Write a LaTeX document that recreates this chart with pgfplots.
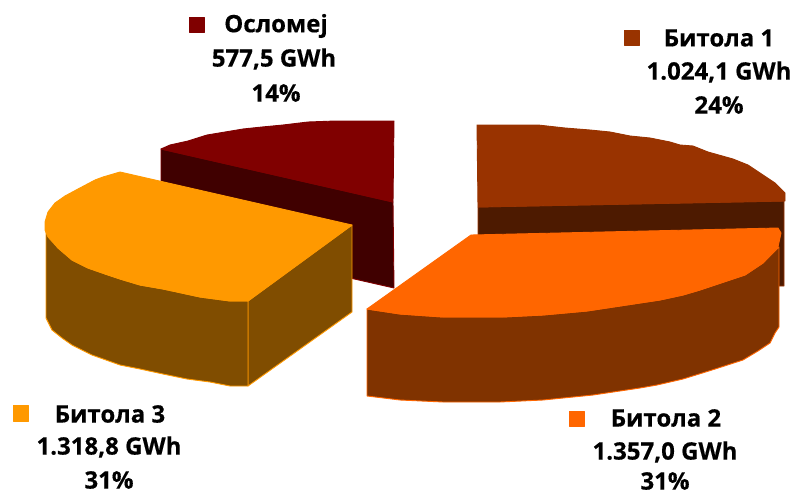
\documentclass[border=0pt]{standalone}
\usepackage{fontspec}
\setmainfont{Open Sans}[BoldFeatures={FakeBold=0.4}]
\usepackage{pgfplots}
\pgfplotsset{compat=1.18}

\definecolor{osl}{HTML}{800000}
\definecolor{osldark}{HTML}{400000}
\definecolor{bt1}{HTML}{993300}
\definecolor{bt1dark}{HTML}{4D1A00}
\definecolor{bt2}{HTML}{FF6600}
\definecolor{bt2dark}{HTML}{803300}
\definecolor{bt3}{HTML}{FF9900}
\definecolor{bt3dark}{HTML}{804D00}

\begin{document}
\begin{tikzpicture}
\begin{axis}[
    hide axis,
    scale only axis,
    width=794pt,
    height=495pt,
    xmin=0, xmax=794,
    ymin=0, ymax=495,
    y dir=reverse,
    every axis plot/.append style={line width=0.9pt, line join=round},
    nodes={font=\fontsize{24}{27}\selectfont\bfseries, text=black, inner sep=0pt},
]
% page background keeps the full picture size
\addplot[draw=none, fill=white] coordinates {(0,0) (794,0) (794,495) (0,495)} --cycle;

% Oslomej
\addplot[draw=osl, fill=osldark] coordinates {(161,149) (393,202) (394,288) (161,235)} --cycle;
\addplot[draw=osl, fill=osl] coordinates {
    (161,149) (170,145) (188,141) (207,135) (225,132) (243,129) (262,127) (283,125)
    (308,122) (335,121) (394,121) (393,202)
} --cycle;

% Bitola 1
\addplot[draw=bt1, fill=bt1dark] coordinates {(478,207) (784,201) (784,286) (478,286)} --cycle;
\addplot[draw=bt1, fill=bt1] coordinates {
    (477,125) (538,125) (565,128) (590,130) (610,132) (630,136) (650,138) (670,142)
    (680,145) (693,146) (708,152) (733,159) (748,165) (763,175) (775,183) (785,193)
    (785,201) (478,207)
} --cycle;

% Bitola 3
\addplot[draw=bt3, fill=bt3dark] coordinates {(248,301) (352,225) (352,312) (248,386)} --cycle;
\addplot[draw=bt3, fill=bt3dark] coordinates {
    (46,232) (46,318) (52,330) (62,338) (72,345) (92,355) (120,365) (140,369) (163,374)
    (187,379) (210,382) (230,386) (248,386) (248,301) (230,301) (200,297) (177,292)
    (163,289) (140,285) (120,279) (108,275) (88,268) (72,260) (58,248)
} --cycle;
\addplot[draw=bt3, fill=bt3] coordinates {
    (120,172) (352,225) (248,301) (230,301) (200,297) (177,292) (163,289) (140,285)
    (120,279) (108,275) (88,268) (72,260) (58,248) (48,237) (45,230) (45,222) (48,212)
    (55,203) (65,196) (78,189) (95,180) (103,177)
} --cycle;

% Bitola 2
\addplot[draw=bt2, fill=bt2dark] coordinates {
    (367,309) (367,396) (400,400) (443,402) (500,402) (543,400) (593,395) (640,388)
    (657,385) (683,379) (712,370) (743,360) (758,351) (770,343) (775,333) (779,327)
    (779,247) (763,263) (745,275) (730,280) (700,290) (683,295) (660,300) (640,303)
    (587,311) (543,315) (503,317) (443,317) (400,314)
} --cycle;
\addplot[draw=bt2, fill=bt2] coordinates {
    (471,235) (778,228) (781,233) (778,247) (763,263) (745,275) (730,280) (700,290)
    (683,295) (660,300) (640,303) (587,311) (543,315) (503,317) (443,317) (400,314)
    (367,309)
} --cycle;

% legend squares
\addplot[draw=osl, fill=osl] coordinates {(189,17) (204,17) (204,32) (189,32)} --cycle;
\addplot[draw=bt1, fill=bt1] coordinates {(624,30) (639,30) (639,45) (624,45)} --cycle;
\addplot[draw=bt2, fill=bt2] coordinates {(569,411) (584,411) (584,426) (569,426)} --cycle;
\addplot[draw=bt3, fill=bt3] coordinates {(13,405) (28,405) (28,421) (13,421)} --cycle;

% labels
\node at (axis cs:276,26) {Осломеј};
\node at (axis cs:274,59) {577,5 GWh};
\node at (axis cs:276,93) {14\%};
\node at (axis cs:719,38) {Битола 1};
\node at (axis cs:719,72) {1.024,1 GWh};
\node at (axis cs:719,105) {24\%};
\node at (axis cs:666,418) {Битола 2};
\node at (axis cs:665,452) {1.357,0 GWh};
\node at (axis cs:665,481) {31\%};
\node at (axis cs:110,414) {Битола 3};
\node at (axis cs:109,447) {1.318,8 GWh};
\node at (axis cs:109,480) {31\%};
\end{axis}
\end{tikzpicture}
\end{document}
